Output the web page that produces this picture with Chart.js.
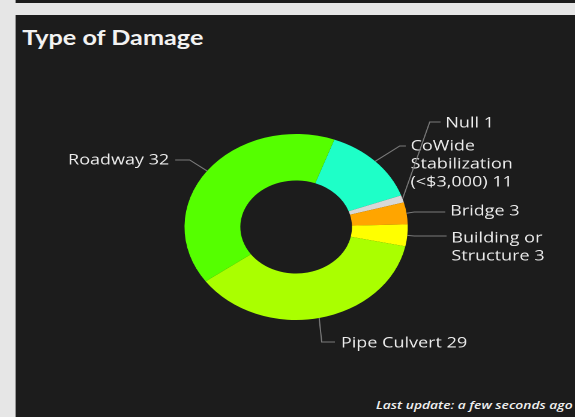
<!DOCTYPE html>
<html>
<head>
<meta charset="utf-8">
<script src="https://cdn.jsdelivr.net/npm/chart.js@4"></script>
<style>
  html, body { margin: 0; padding: 0; width: 575px; height: 417px; overflow: hidden; background: #e6e6e6; }
  #page { position: absolute; left: 0; top: 0; width: 479px; height: 417px; transform: scaleX(1.2004); transform-origin: 0 0; }
  #topbar { position: absolute; left: 12.5px; top: 0; right: 0; height: 3px; background: #1c1c1c; }
  #panel { position: absolute; left: 12.5px; top: 15px; right: 0; bottom: 0; background: #1c1c1c; }
  #title { position: absolute; left: 6px; top: 9px; font: bold 21px Lato; color: #f2f2f2; }
  #foot { position: absolute; right: 2px; bottom: 5px; font: italic 600 11.5px "Open Sans"; color: #f0f0f0; }
  #c { position: absolute; left: 0; top: 0; }
</style>
</head>
<body>
<div id="page">
  <div id="topbar"></div>
  <div id="panel">
    <div id="title">Type of Damage</div>
    <div id="foot">Last update: a few seconds ago</div>
  </div>
  <canvas id="c" width="479" height="417"></canvas>
</div>
<script>
const categories = ["CoWide Stabilization (<$3,000)", "Null", "Bridge", "Building or Structure", "Pipe Culvert", "Roadway"];
const counts = [11, 1, 3, 3, 29, 32];
const wrapped = [["CoWide", "Stabilization", "(<$3,000)"], ["Null"], ["Bridge"], ["Building or", "Structure"], ["Pipe Culvert"], ["Roadway"]];
const colors = ["#1effc8", "#d8d8d8", "#ffa500", "#ffff00", "#aaff00", "#55ff00"];

// where each leader line bends and where its text goes (unscaled page px)
const callouts = [
    { ex: 333, ey: 146, endX: 338, tx: 342, ty: 146, align: "left" },
    { ex: 358, ey: 122, endX: 367, tx: 371, ty: 123, align: "left" },
    { ex: 345, ey: 212, endX: 371, tx: 375, ty: 211, align: "left" },
    { ex: 345, ey: 236, endX: 372, tx: 376, ty: 238, align: "left" },
    { ex: 268, ey: 342, endX: 279, tx: 284, ty: 343, align: "left" },
    { ex: 158, ey: 160, endX: 146, tx: 141, ty: 160, align: "right" }
];

const calloutPlugin = {
    id: "callouts",
    afterDatasetsDraw(chart) {
        const ctx = chart.ctx;
        const arcs = chart.getDatasetMeta(0).data;
        ctx.save();
        arcs.forEach((arc, i) => {
            const p = arc.getProps(["x", "y", "startAngle", "endAngle", "outerRadius"], true);
            const mid = (p.startAngle + p.endAngle) / 2;
            const ox = p.x + Math.cos(mid) * p.outerRadius;
            const oy = p.y + Math.sin(mid) * p.outerRadius;
            const c = callouts[i];
            ctx.strokeStyle = "#7a7a7a";
            ctx.lineWidth = 1;
            ctx.beginPath();
            ctx.moveTo(ox, oy);
            ctx.lineTo(c.ex, c.ey);
            ctx.lineTo(c.endX, c.ey);
            ctx.stroke();
            ctx.fillStyle = "#ececec";
            ctx.font = "15px 'Open Sans'";
            ctx.textAlign = c.align;
            ctx.textBaseline = "middle";
            const lines = wrapped[i].slice();
            lines[lines.length - 1] += " " + counts[i];
            lines.forEach((t, k) => ctx.fillText(t, c.tx, c.ty + k * 18));
        });
        ctx.restore();
    }
};

const cx = 246.7, cy = 227, r = 93;
new Chart(document.getElementById("c"), {
    type: "doughnut",
    data: {
        labels: categories,
        datasets: [{
            data: counts,
            backgroundColor: colors,
            borderWidth: 0
        }]
    },
    options: {
        responsive: false,
        devicePixelRatio: 2,
        animation: false,
        rotation: 20,
        cutout: "50%",
        layout: { padding: { left: cx - r, right: 479 - cx - r, top: cy - r, bottom: 417 - cy - r } },
        plugins: { legend: { display: false }, tooltip: { enabled: false } }
    },
    plugins: [calloutPlugin]
});
</script>
</body>
</html>
